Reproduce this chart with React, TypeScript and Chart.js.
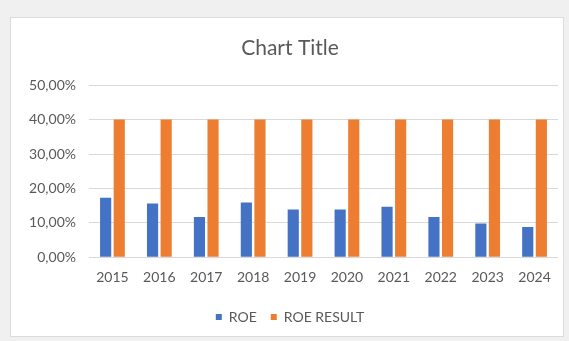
import React, { useEffect, useRef } from "react";
import { Chart, registerables } from "chart.js";

Chart.register(...registerables);

const categories = ["2015", "2016", "2017", "2018", "2019", "2020", "2021", "2022", "2023", "2024"];
const roe = [17.3, 15.6, 11.7, 15.9, 13.9, 13.9, 14.7, 11.7, 9.8, 8.8];
const roeResult = [40, 40, 40, 40, 40, 40, 40, 40, 40, 40];
const yMin = 0;
const yMax = 50;
const yStep = 10;

export default function App() {
  const ref = useRef<HTMLCanvasElement>(null);
  useEffect(() => {
    if (!ref.current) return;
    const font = "Lato, 'Liberation Sans', sans-serif";
    const chart = new Chart(ref.current, {
      type: "bar",
      data: {
        labels: categories,
        datasets: [
          { label: "ROE", data: roe, backgroundColor: "#4472C4", categoryPercentage: 0.58, barPercentage: 0.82 },
          { label: "ROE RESULT", data: roeResult, backgroundColor: "#ED7D31", categoryPercentage: 0.58, barPercentage: 0.82 },
        ],
      },
      options: {
        animation: false,
        responsive: false,
        maintainAspectRatio: false,
        layout: { padding: { left: 11, right: 5, top: 14, bottom: 2 } },
        plugins: {
          title: {
            display: true,
            text: "Chart Title",
            color: "#595959",
            font: { family: font, size: 21, weight: "normal" },
            padding: { top: 4, bottom: 24 },
          },
          legend: {
            position: "bottom",
            labels: {
              color: "#595959",
              font: { family: font, size: 14 },
              boxWidth: 6,
              boxHeight: 6,
              padding: 14,
            },
          },
          tooltip: { enabled: false },
        },
        scales: {
          x: {
            grid: { display: false },
            border: { display: false },
            afterFit: (s: any) => { s.height += 6; },
            ticks: { color: "#595959", font: { family: font, size: 14 }, padding: 4 },
          },
          y: {
            min: yMin,
            max: yMax,
            afterFit: (s: any) => { s.width = 67; },
            grid: { color: "#d9d9d9", drawTicks: false },
            border: { display: false },
            ticks: {
              stepSize: yStep,
              color: "#595959",
              font: { family: font, size: 14 },
              padding: 13,
              callback: (v: any) => Number(v).toFixed(2).replace(".", ",") + "%",
            },
          },
        },
      },
    });
    return () => chart.destroy();
  }, []);
  return (
    <div style={{ position: "fixed", inset: 0, background: "#f0f0f0" }}>
      <div style={{ position: "absolute", left: 10, top: 17, width: 552, height: 318, background: "#fff", border: "1px solid #dcdcdc" }}>
        <canvas ref={ref} width={552} height={318} />
      </div>
    </div>
  );
}
